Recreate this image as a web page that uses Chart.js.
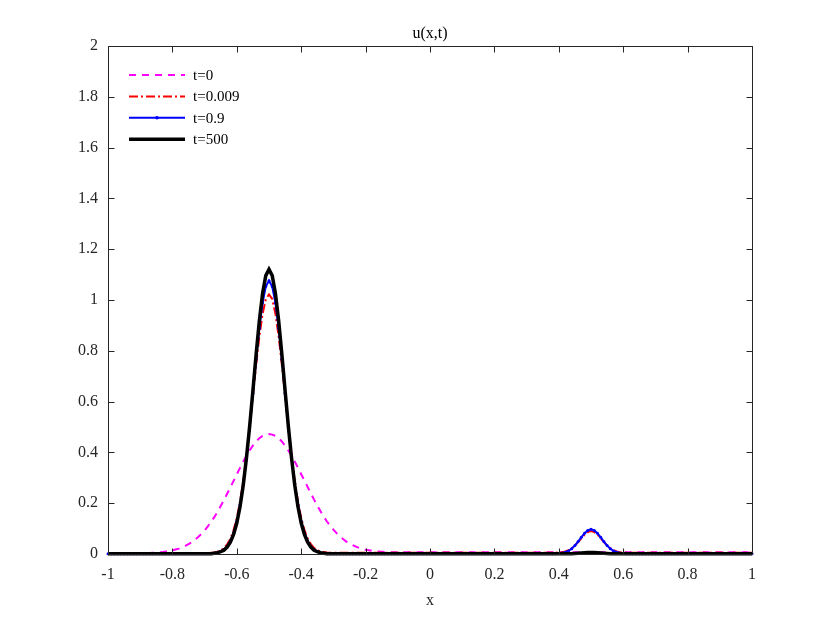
<!DOCTYPE html>
<html>
<head>
<meta charset="utf-8">
<title>u(x,t)</title>
<script src="https://cdn.jsdelivr.net/npm/chart.js@4.4.1/dist/chart.umd.min.js"></script>
<style>
  html, body { margin: 0; padding: 0; background: #fff; }
  #wrap { width: 830px; height: 623px; }
</style>
</head>
<body>
<div id="wrap"><canvas id="uChart"></canvas></div>
<script>
// sample positions on the x axis
let xs = [
  -1, -0.99, -0.98, -0.97, -0.96, -0.95, -0.94, -0.93, -0.92, -0.91,
  -0.9, -0.89, -0.88, -0.87, -0.86, -0.85, -0.84, -0.83, -0.82, -0.81,
  -0.8, -0.79, -0.78, -0.77, -0.76, -0.75, -0.74, -0.73, -0.72, -0.71,
  -0.7, -0.69, -0.68, -0.67, -0.66, -0.65, -0.64, -0.63, -0.62, -0.61,
  -0.6, -0.59, -0.58, -0.57, -0.56, -0.55, -0.54, -0.53, -0.52, -0.51,
  -0.5, -0.49, -0.48, -0.47, -0.46, -0.45, -0.44, -0.43, -0.42, -0.41,
  -0.4, -0.39, -0.38, -0.37, -0.36, -0.35, -0.34, -0.33, -0.32, -0.31,
  -0.3, -0.29, -0.28, -0.27, -0.26, -0.25, -0.24, -0.23, -0.22, -0.21,
  -0.2, -0.19, -0.18, -0.17, -0.16, -0.15, -0.14, -0.13, -0.12, -0.11,
  -0.1, -0.09, -0.08, -0.07, -0.06, -0.05, -0.04, -0.03, -0.02, -0.01,
  0, 0.01, 0.02, 0.03, 0.04, 0.05, 0.06, 0.07, 0.08, 0.09,
  0.1, 0.11, 0.12, 0.13, 0.14, 0.15, 0.16, 0.17, 0.18, 0.19,
  0.2, 0.21, 0.22, 0.23, 0.24, 0.25, 0.26, 0.27, 0.28, 0.29,
  0.3, 0.31, 0.32, 0.33, 0.34, 0.35, 0.36, 0.37, 0.38, 0.39,
  0.4, 0.41, 0.42, 0.43, 0.44, 0.45, 0.46, 0.47, 0.48, 0.49,
  0.5, 0.51, 0.52, 0.53, 0.54, 0.55, 0.56, 0.57, 0.58, 0.59,
  0.6, 0.61, 0.62, 0.63, 0.64, 0.65, 0.66, 0.67, 0.68, 0.69,
  0.7, 0.71, 0.72, 0.73, 0.74, 0.75, 0.76, 0.77, 0.78, 0.79,
  0.8, 0.81, 0.82, 0.83, 0.84, 0.85, 0.86, 0.87, 0.88, 0.89,
  0.9, 0.91, 0.92, 0.93, 0.94, 0.95, 0.96, 0.97, 0.98, 0.99,
  1
];

let xTicks = [-1, -0.8, -0.6, -0.4, -0.2, 0, 0.2, 0.4, 0.6, 0.8, 1];
let yTicks = [0, 0.2, 0.4, 0.6, 0.8, 1, 1.2, 1.4, 1.6, 1.8, 2];
let seriesLabels = ["t=0", "t=0.009", "t=0.9", "t=500"];

// u(x, t=0)
let u_t0 = [
  0.003, 0.003, 0.003, 0.003, 0.003, 0.003, 0.003, 0.003, 0.003, 0.003,
  0.003, 0.003, 0.004, 0.004, 0.005, 0.006, 0.007, 0.008, 0.010, 0.012,
  0.014, 0.018, 0.021, 0.026, 0.032, 0.039, 0.046, 0.056, 0.067, 0.079,
  0.093, 0.109, 0.126, 0.145, 0.166, 0.189, 0.212, 0.237, 0.262, 0.288,
  0.314, 0.339, 0.364, 0.387, 0.408, 0.427, 0.443, 0.456, 0.465, 0.470,
  0.472, 0.470, 0.465, 0.456, 0.443, 0.427, 0.408, 0.387, 0.364, 0.339,
  0.314, 0.290, 0.264, 0.239, 0.214, 0.191, 0.168, 0.147, 0.128, 0.111,
  0.096, 0.082, 0.070, 0.059, 0.049, 0.042, 0.035, 0.029, 0.024, 0.021,
  0.017, 0.015, 0.013, 0.011, 0.010, 0.009, 0.008, 0.008, 0.007, 0.007,
  0.007, 0.007, 0.007, 0.007, 0.007, 0.007, 0.007, 0.007, 0.007, 0.007,
  0.007, 0.007, 0.007, 0.007, 0.007, 0.007, 0.007, 0.007, 0.007, 0.007,
  0.007, 0.007, 0.007, 0.007, 0.007, 0.007, 0.007, 0.007, 0.007, 0.007,
  0.007, 0.007, 0.007, 0.007, 0.007, 0.007, 0.007, 0.007, 0.007, 0.007,
  0.007, 0.007, 0.007, 0.007, 0.007, 0.007, 0.007, 0.007, 0.007, 0.007,
  0.007, 0.007, 0.007, 0.007, 0.007, 0.007, 0.007, 0.007, 0.007, 0.007,
  0.007, 0.007, 0.007, 0.007, 0.007, 0.007, 0.007, 0.007, 0.007, 0.007,
  0.007, 0.007, 0.007, 0.007, 0.007, 0.007, 0.007, 0.007, 0.007, 0.007,
  0.007, 0.007, 0.007, 0.007, 0.007, 0.007, 0.007, 0.007, 0.007, 0.007,
  0.007, 0.007, 0.007, 0.007, 0.007, 0.007, 0.007, 0.007, 0.007, 0.007,
  0.007, 0.007, 0.007, 0.007, 0.007, 0.007, 0.007, 0.007, 0.007, 0.007,
  0.007
];

// u(x, t=0.009)
let u_t009 = [
  0.003, 0.003, 0.003, 0.003, 0.003, 0.003, 0.003, 0.003, 0.003, 0.003,
  0.003, 0.003, 0.003, 0.003, 0.003, 0.003, 0.003, 0.003, 0.003, 0.003,
  0.003, 0.003, 0.003, 0.003, 0.003, 0.003, 0.003, 0.003, 0.003, 0.003,
  0.003, 0.003, 0.005, 0.006, 0.009, 0.014, 0.023, 0.038, 0.060, 0.094,
  0.141, 0.205, 0.287, 0.386, 0.499, 0.622, 0.744, 0.855, 0.945, 1.003,
  1.022, 1.004, 0.946, 0.856, 0.745, 0.623, 0.500, 0.387, 0.288, 0.206,
  0.142, 0.095, 0.061, 0.039, 0.024, 0.015, 0.010, 0.008, 0.006, 0.005,
  0.005, 0.005, 0.005, 0.005, 0.005, 0.005, 0.005, 0.005, 0.005, 0.005,
  0.005, 0.005, 0.005, 0.005, 0.005, 0.005, 0.005, 0.005, 0.005, 0.005,
  0.005, 0.005, 0.005, 0.005, 0.005, 0.005, 0.005, 0.005, 0.005, 0.005,
  0.005, 0.005, 0.005, 0.005, 0.005, 0.005, 0.005, 0.005, 0.005, 0.005,
  0.005, 0.005, 0.005, 0.005, 0.005, 0.005, 0.005, 0.005, 0.005, 0.005,
  0.005, 0.005, 0.005, 0.005, 0.005, 0.005, 0.005, 0.005, 0.005, 0.005,
  0.005, 0.005, 0.005, 0.005, 0.005, 0.005, 0.005, 0.005, 0.005, 0.005,
  0.006, 0.007, 0.010, 0.015, 0.023, 0.033, 0.047, 0.062, 0.076, 0.086,
  0.090, 0.086, 0.076, 0.062, 0.047, 0.033, 0.023, 0.015, 0.010, 0.007,
  0.006, 0.005, 0.005, 0.005, 0.005, 0.005, 0.005, 0.005, 0.005, 0.005,
  0.005, 0.005, 0.005, 0.005, 0.005, 0.005, 0.005, 0.005, 0.005, 0.005,
  0.005, 0.005, 0.005, 0.005, 0.005, 0.005, 0.005, 0.005, 0.005, 0.005,
  0.005, 0.005, 0.005, 0.005, 0.005, 0.005, 0.005, 0.005, 0.005, 0.005,
  0.005
];

// u(x, t=0.9)
let u_t09 = [
  0.001, 0.001, 0.001, 0.001, 0.001, 0.001, 0.001, 0.001, 0.001, 0.001,
  0.001, 0.001, 0.001, 0.001, 0.001, 0.001, 0.001, 0.001, 0.001, 0.001,
  0.001, 0.001, 0.001, 0.001, 0.001, 0.001, 0.001, 0.001, 0.001, 0.001,
  0.001, 0.001, 0.001, 0.003, 0.006, 0.010, 0.018, 0.030, 0.051, 0.083,
  0.129, 0.193, 0.276, 0.380, 0.501, 0.633, 0.766, 0.889, 0.988, 1.053,
  1.076, 1.053, 0.988, 0.889, 0.766, 0.633, 0.501, 0.380, 0.276, 0.193,
  0.129, 0.083, 0.051, 0.030, 0.018, 0.010, 0.006, 0.003, 0.001, 0.001,
  0.001, 0.001, 0.001, 0.001, 0.001, 0.001, 0.001, 0.001, 0.001, 0.001,
  0.001, 0.001, 0.001, 0.001, 0.001, 0.001, 0.001, 0.001, 0.001, 0.001,
  0.001, 0.001, 0.001, 0.001, 0.001, 0.001, 0.001, 0.001, 0.001, 0.001,
  0.001, 0.001, 0.001, 0.001, 0.001, 0.001, 0.001, 0.001, 0.001, 0.001,
  0.001, 0.001, 0.001, 0.001, 0.001, 0.001, 0.001, 0.001, 0.001, 0.001,
  0.001, 0.001, 0.001, 0.001, 0.001, 0.001, 0.001, 0.001, 0.001, 0.001,
  0.001, 0.001, 0.001, 0.001, 0.001, 0.001, 0.001, 0.001, 0.001, 0.001,
  0.002, 0.004, 0.007, 0.012, 0.021, 0.033, 0.049, 0.066, 0.082, 0.093,
  0.097, 0.093, 0.082, 0.066, 0.049, 0.033, 0.021, 0.012, 0.007, 0.004,
  0.002, 0.001, 0.001, 0.001, 0.001, 0.001, 0.001, 0.001, 0.001, 0.001,
  0.001, 0.001, 0.001, 0.001, 0.001, 0.001, 0.001, 0.001, 0.001, 0.001,
  0.001, 0.001, 0.001, 0.001, 0.001, 0.001, 0.001, 0.001, 0.001, 0.001,
  0.001, 0.001, 0.001, 0.001, 0.001, 0.001, 0.001, 0.001, 0.001, 0.001,
  0.001
];

// u(x, t=500)
let u_t500 = [
  0.001, 0.001, 0.001, 0.001, 0.001, 0.001, 0.001, 0.001, 0.001, 0.001,
  0.001, 0.001, 0.001, 0.001, 0.001, 0.001, 0.001, 0.001, 0.001, 0.001,
  0.001, 0.001, 0.001, 0.001, 0.001, 0.001, 0.001, 0.001, 0.001, 0.001,
  0.001, 0.001, 0.001, 0.003, 0.005, 0.009, 0.015, 0.027, 0.047, 0.077,
  0.122, 0.186, 0.271, 0.378, 0.504, 0.643, 0.786, 0.918, 1.026, 1.096,
  1.121, 1.096, 1.026, 0.918, 0.786, 0.643, 0.504, 0.378, 0.271, 0.186,
  0.122, 0.077, 0.047, 0.027, 0.015, 0.009, 0.005, 0.003, 0.001, 0.001,
  0.001, 0.001, 0.001, 0.001, 0.001, 0.001, 0.001, 0.001, 0.001, 0.001,
  0.001, 0.001, 0.001, 0.001, 0.001, 0.001, 0.001, 0.001, 0.001, 0.001,
  0.001, 0.001, 0.001, 0.001, 0.001, 0.001, 0.001, 0.001, 0.001, 0.001,
  0.001, 0.001, 0.001, 0.001, 0.001, 0.001, 0.001, 0.001, 0.001, 0.001,
  0.001, 0.001, 0.001, 0.001, 0.001, 0.001, 0.001, 0.001, 0.001, 0.001,
  0.001, 0.001, 0.001, 0.001, 0.001, 0.001, 0.001, 0.001, 0.001, 0.001,
  0.001, 0.001, 0.001, 0.001, 0.001, 0.001, 0.001, 0.001, 0.001, 0.001,
  0.001, 0.001, 0.001, 0.001, 0.001, 0.002, 0.003, 0.004, 0.005, 0.006,
  0.006, 0.006, 0.005, 0.004, 0.003, 0.002, 0.001, 0.001, 0.001, 0.001,
  0.001, 0.001, 0.001, 0.001, 0.001, 0.001, 0.001, 0.001, 0.001, 0.001,
  0.001, 0.001, 0.001, 0.001, 0.001, 0.001, 0.001, 0.001, 0.001, 0.001,
  0.001, 0.001, 0.001, 0.001, 0.001, 0.001, 0.001, 0.001, 0.001, 0.001,
  0.001, 0.001, 0.001, 0.001, 0.001, 0.001, 0.001, 0.001, 0.001, 0.001,
  0.001
];

const serif = "'Liberation Serif', 'Times New Roman', serif";
const axisColor = "#262626";

// MATLAB style: ticks pointing inward on all four sides, plus the box
const innerTicks = {
  id: "innerTicks",
  afterDraw(chart) {
    const ctx = chart.ctx;
    const a = chart.chartArea;
    const xs_ = chart.scales.x;
    const ys_ = chart.scales.y;
    const len = 6;
    let L = Math.round(a.left) + 0.5, R = Math.round(a.right) + 0.5;
    let T = Math.round(a.top) + 0.5, B = Math.round(a.bottom) + 0.5;
    ctx.save();
    ctx.strokeStyle = axisColor;
    ctx.lineWidth = 1;
    ctx.setLineDash([]);
    ctx.beginPath();
    ctx.rect(L, T, R - L, B - T);
    xs_.ticks.forEach(t => {
      let px = Math.round(xs_.getPixelForValue(t.value)) + 0.5;
      ctx.moveTo(px, B); ctx.lineTo(px, B - len);
      ctx.moveTo(px, T); ctx.lineTo(px, T + len);
    });
    ys_.ticks.forEach(t => {
      let py = Math.round(ys_.getPixelForValue(t.value)) + 0.5;
      ctx.moveTo(L, py); ctx.lineTo(L + len, py);
      ctx.moveTo(R, py); ctx.lineTo(R - len, py);
    });
    ctx.stroke();
    ctx.restore();
  }
};

// legend box in the upper-left corner of the plot
const legendInside = {
  id: "legendInside",
  afterDatasetsDraw(chart) {
    const ctx = chart.ctx;
    const left = chart.chartArea.left;
    const top = chart.chartArea.top;
    chart.data.datasets.forEach((ds, i) => {
      let y = top + 29 + i * 21.4;
      ctx.save();
      ctx.strokeStyle = ds.borderColor;
      ctx.lineWidth = ds.borderWidth;
      ctx.setLineDash(ds.borderDash || []);
      ctx.beginPath();
      ctx.moveTo(left + 21, y);
      ctx.lineTo(left + 77, y);
      ctx.stroke();
      if (ds.pointRadius > 0) {
        ctx.fillStyle = ds.borderColor;
        ctx.beginPath();
        ctx.arc(left + 49, y, ds.pointRadius + 0.3, 0, Math.PI * 2);
        ctx.fill();
      }
      ctx.fillStyle = "#000";
      ctx.font = "15px " + serif;
      ctx.textBaseline = "middle";
      ctx.textAlign = "left";
      ctx.fillText(ds.label, left + 85, y + 1);
      ctx.restore();
    });
  }
};

// plain tick text, "1" not "1.0"
function tickText(value) {
  return String(value);
}

Chart.defaults.font.family = serif;
Chart.defaults.color = axisColor;

let chart = new Chart(document.getElementById("uChart"), {
  type: "line",
  data: {
    labels: xs,
    datasets: [
      {
        label: seriesLabels[0],
        data: u_t0,
        borderColor: "#ff00ff",
        borderWidth: 2,
        borderDash: [7, 6],
        pointRadius: 0,
        order: 4
      },
      {
        label: seriesLabels[1],
        data: u_t009,
        borderColor: "#ff0000",
        borderWidth: 2,
        borderDash: [9, 3, 2, 3],
        pointRadius: 0,
        order: 3
      },
      {
        label: seriesLabels[2],
        data: u_t09,
        borderColor: "#0000ff",
        borderWidth: 2,
        pointRadius: 1.5,
        pointBackgroundColor: "#0000ff",
        pointBorderWidth: 0,
        order: 2
      },
      {
        label: seriesLabels[3],
        data: u_t500,
        borderColor: "#000000",
        borderWidth: 3.5,
        pointRadius: 0,
        order: 1
      }
    ]
  },
  options: {
    responsive: true,
    maintainAspectRatio: false,
    animation: false,
    events: [],
    layout: { padding: { top: 0, right: 78, left: 0, bottom: 0 } },
    datasets: { line: { tension: 0, clip: false } },
    plugins: {
      legend: { display: false },
      tooltip: { enabled: false },
      title: {
        display: true,
        text: "u(x,t)",
        fullSize: false,
        color: "#000",
        font: { size: 16, weight: "normal", lineHeight: 1.2 },
        padding: { top: 24, bottom: 2.8 }
      }
    },
    scales: {
      x: {
        type: "linear",
        min: -1,
        max: 1,
        afterBuildTicks: s => { s.ticks = xTicks.map(v => ({ value: v })); },
        afterFit: s => { s.height = 69; },
        grid: { display: false, drawTicks: false },
        border: { display: false },
        ticks: { padding: 11, font: { size: 16 }, color: axisColor, maxRotation: 0, autoSkip: false, callback: tickText },
        title: {
          display: true,
          text: "x",
          color: axisColor,
          font: { size: 16, lineHeight: 1.2 },
          padding: { top: 0, bottom: 13 }
        }
      },
      y: {
        type: "linear",
        min: 0,
        max: 2,
        afterBuildTicks: s => { s.ticks = yTicks.map(v => ({ value: v })); },
        afterFit: s => { s.width = 108; },
        grid: { display: false, drawTicks: false },
        border: { display: false },
        ticks: { padding: 10, font: { size: 16 }, color: axisColor, autoSkip: false, callback: tickText }
      }
    }
  },
  plugins: [legendInside, innerTicks]
});
</script>
</body>
</html>
